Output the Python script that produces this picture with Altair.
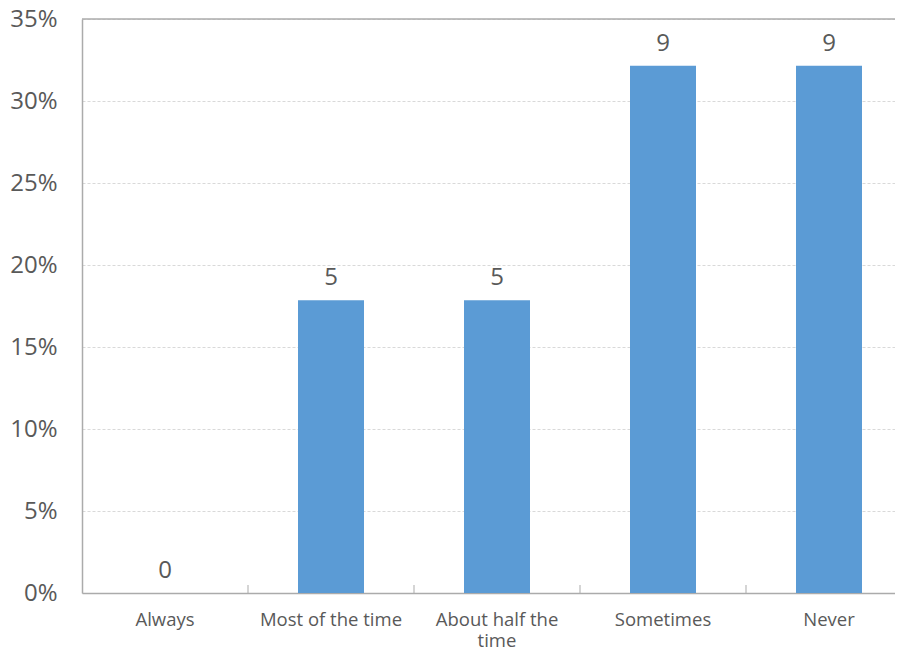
import altair as alt
import pandas as pd

categories = ["Always", "Most of the time", "About half the time", "Sometimes", "Never"]
counts = [0, 5, 5, 9, 9]
total = sum(counts)
percents = [c / total for c in counts]

df = pd.DataFrame({"cat": categories, "count": counts, "pct": percents})
ticks_df = pd.DataFrame({"cat": categories[1:]})
top_df = pd.DataFrame({"v": [0.35]})

FONT = "Open Sans"
GRAY = "#595959"

x_scale = alt.Scale(domain=categories, range=[0, 830], paddingInner=0, paddingOuter=0)
y_scale = alt.Scale(domain=[0, 0.35], nice=False)

x_enc = alt.X(
    "cat:N",
    scale=x_scale,
    sort=categories,
    axis=alt.Axis(
        title=None,
        labelAngle=0,
        labelFont=FONT,
        labelFontSize=18.5,
        labelColor=GRAY,
        labelPadding=17,
        labelLineHeight=21,
        ticks=False,
        domainColor="#ABABAB",
        domainWidth=1.5,
        labelLimit=300,
        labelExpr="datum.label == 'About half the time' ? ['About half the', 'time'] : datum.label",
    ),
)
y_enc = alt.Y(
    "pct:Q",
    scale=y_scale,
    axis=alt.Axis(
        title=None,
        values=[0, 0.05, 0.10, 0.15, 0.20, 0.25, 0.30, 0.35],
        format=".0%",
        labelFont=FONT,
        labelFontSize=24,
        labelColor=GRAY,
        labelPadding=25,
        ticks=False,
        domainColor="#ABABAB",
        domainWidth=1.5,
        gridColor="#D9D9D9",
        gridDash=[3, 2],
    ),
)

bars = alt.Chart(df).mark_bar(color="#5B9BD5", width=66).encode(x=x_enc, y=y_enc)

labels = alt.Chart(df).mark_text(
    font=FONT, fontSize=24, color=GRAY, baseline="bottom", dy=-10
).encode(x=alt.X("cat:N", scale=x_scale, sort=categories), y=alt.Y("pct:Q", scale=y_scale), text="count:Q")

top_line = alt.Chart(top_df).mark_rule(color="#ABABAB", strokeWidth=1.5).encode(
    y=alt.Y("v:Q", scale=y_scale)
)

tick_marks = alt.Chart(ticks_df).mark_rule(color="#ABABAB", strokeWidth=1).encode(
    x=alt.X("cat:N", scale=x_scale, sort=categories, bandPosition=0),
    y=alt.value(574),
    y2=alt.value(566),
)

chart = (
    alt.layer(bars, labels, top_line, tick_marks)
    .properties(
        width=813,
        height=574,
        autosize=alt.AutoSizeParams(type="none"),
        padding={"left": 74, "top": 11, "right": 0, "bottom": 58},
        background="white",
    )
    .configure_view(stroke=None)
)

chart.save("out.html", embed_options={"renderer": "svg", "actions": False})
